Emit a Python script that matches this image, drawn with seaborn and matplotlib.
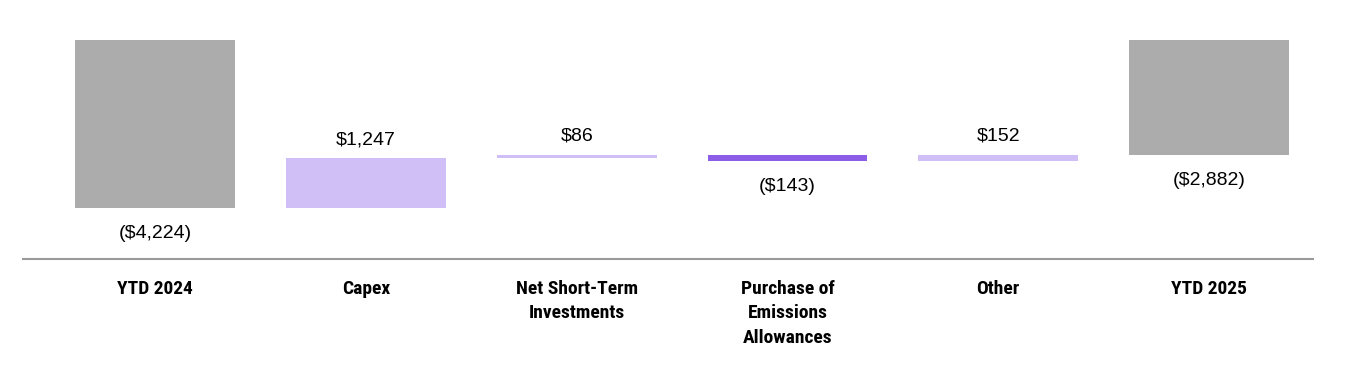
import numpy as np
import pandas as pd
import matplotlib.pyplot as plt
import seaborn as sns

# ----------------- data -----------------
categories = ['YTD 2024', 'Capex', 'Net Short-Term\nInvestments',
              'Purchase of\nEmissions\nAllowances', 'Other', 'YTD 2025']
changes = [-4224, 1247, 86, -143, 152, -2882]
is_total = [True, False, False, False, False, True]

# waterfall base for each bar
starts = []
running = 0
for val, tot in zip(changes, is_total):
    if tot:
        starts.append(0)
        running = val
    else:
        starts.append(running)
        running += val

df = pd.DataFrame({'cat': categories, 'change': changes,
                   'start': starts, 'total': is_total})

grey = '#acacac'
light_purple = '#d0bff7'
dark_purple = '#8c5de6'
colors = [grey if t else (light_purple if c > 0 else dark_purple)
          for c, t in zip(changes, is_total)]

# ----------------- plot -----------------
sns.set_style('white')
plt.rcParams['font.family'] = ['Liberation Sans', 'DejaVu Sans']

fig = plt.figure(figsize=(13.64, 3.70), dpi=100)
ax = fig.add_axes([23 / 1364, 1 - 259 / 370, 1290 / 1364, 219 / 370])

sns.barplot(data=df, x='cat', y='change', hue='cat', palette=colors,
            width=0.758, legend=False, ax=ax, saturation=1, linewidth=0)

# shift each bar to float on the running total
for patch, s in zip(ax.patches, df['start']):
    patch.set_y(s)

# value labels - above for increases, below for decreases
for i, (c, s) in enumerate(zip(df['change'], df['start'])):
    end = s + c
    txt = f'${c:,}' if c > 0 else f'(${abs(c):,})'
    if c > 0:
        ax.annotate(txt, (i, end), xytext=(0, 10), textcoords='offset pixels',
                    ha='center', va='bottom', fontsize=14, color='black')
    else:
        ax.annotate(txt, (i, end), xytext=(0, -17), textcoords='offset pixels',
                    ha='center', va='top', fontsize=14, color='black')

ax.set_xlim(-0.626, 5.493)
ax.set_ylim(-5507, 0)
ax.set_xlabel('')
ax.set_ylabel('')
ax.set_yticks([])
ax.tick_params(axis='x', length=0, pad=15)
ax.set_xticks(range(len(categories)))
ax.set_xticklabels(categories, fontsize=14, fontweight='bold', color='black',
                   family=['Roboto Condensed', 'Liberation Sans'],
                   linespacing=1.46)

for side in ['top', 'left', 'right']:
    ax.spines[side].set_visible(False)
ax.spines['bottom'].set_color('#9a9a9a')
ax.spines['bottom'].set_linewidth(1.5)

fig.savefig('out.png', dpi=100)
